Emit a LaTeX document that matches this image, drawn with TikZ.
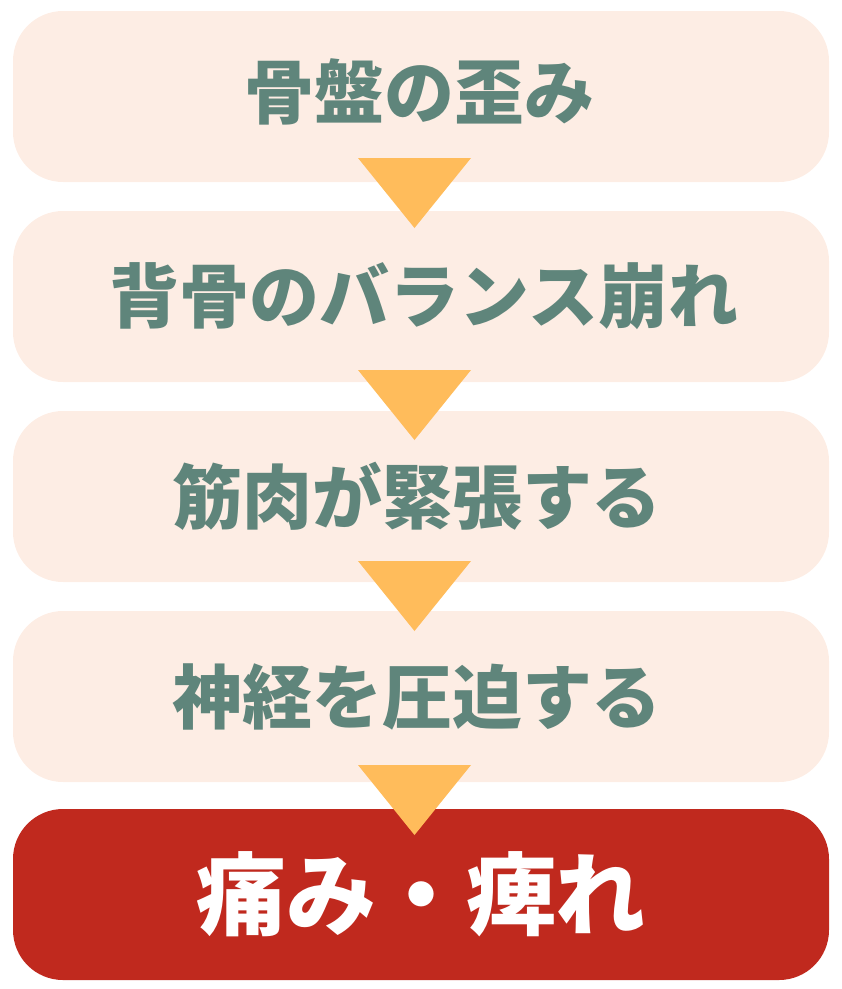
\documentclass[tikz,border=0pt]{standalone}
\usepackage{fontspec}
\newfontfamily\jp{Noto Sans CJK JP}
\definecolor{boxfill}{HTML}{FDEDE4}
\definecolor{arrowfill}{HTML}{FFBC5B}
\definecolor{txtgreen}{HTML}{5F857B}
\definecolor{redbox}{HTML}{C0291E}
\tikzset{
  stepbox/.style={fill=boxfill, draw=none, rounded corners=50pt, minimum width=816pt, minimum height=171pt, inner sep=0pt},
  lastbox/.style={stepbox, fill=redbox},
  steptext/.style={font=\jp\bfseries\fontsize{70pt}{80pt}\selectfont, text=txtgreen, inner sep=0pt},
  lasttext/.style={font=\jp\bfseries\fontsize{90pt}{100pt}\selectfont, text=white, inner sep=0pt},
  tri/.style={fill=arrowfill, draw=none}
}
\begin{document}
\begin{tikzpicture}[x=1pt,y=-1pt]
\useasboundingbox (0,0) rectangle (842,989);
\node[stepbox] (b1) at (421,96.5) {};
\node[stepbox] (b2) at (421,296.5) {};
\node[stepbox] (b3) at (421,496.5) {};
\node[stepbox] (b4) at (421,696.5) {};
\node[lastbox] (b5) at (421,894.5) {};
\node[steptext] (t1) at (419,92) {骨盤の歪み};
\node[steptext] (t2) at (424,296) {背骨のバランス崩れ};
\node[steptext] (t3) at (417,496) {筋肉が緊張する};
\node[steptext] (t4) at (417,697) {神経を圧迫する};
\node[lasttext] (t5) at (421,894) {痛み・痺れ};
\foreach \ty in {158,370,561,765}{
  \fill[tri] (358,\ty) -- (471,\ty) -- (414.5,\ty+70) -- cycle;
}
\end{tikzpicture}
\end{document}
